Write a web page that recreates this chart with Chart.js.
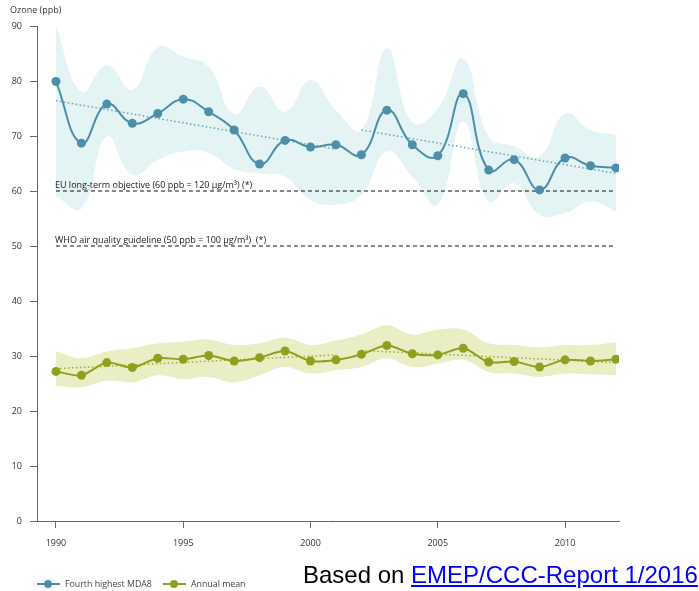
<!DOCTYPE html>
<html>
<head>
<meta charset="utf-8">
<script src="https://cdn.jsdelivr.net/npm/chart.js@4/dist/chart.umd.min.js"></script>
<style>
  html, body { margin: 0; padding: 0; background: #fff; }
  #wrap { position: relative; width: 699px; height: 591px; overflow: hidden; }
  #chart { position: absolute; left: 0; top: 0; }
  .legend { position: absolute; top: 578px; font: 8.8px "Open Sans", sans-serif; color: #444; height: 12px; line-height: 12px; }
  .legend .sw { position: absolute; top: 5px; width: 23px; height: 2px; }
  .legend .dot { position: absolute; top: 2px; left: 7px; width: 8px; height: 8px; border-radius: 50%; }
  .legend .tx { position: absolute; left: 28px; top: 0; white-space: nowrap; }
  #source { position: absolute; left: 303px; top: 561px; font: 24px "Liberation Sans", Arial, sans-serif; color: #000; white-space: nowrap; }
  #source a { color: #0000ff; text-decoration: underline; }
</style>
</head>
<body>
<div id="wrap">
  <canvas id="chart" width="699" height="591"></canvas>
  <div class="legend" style="left:37px"><span class="sw" style="background:#4b8fa9"></span><span class="dot" style="background:#4b8fa9"></span><span class="tx">Fourth highest MDA8</span></div>
  <div class="legend" style="left:163px"><span class="sw" style="background:#8fa01e"></span><span class="dot" style="background:#8fa01e"></span><span class="tx">Annual mean</span></div>
  <div id="source">Based on <a href="#">EMEP/CCC-Report 1/2016</a></div>
</div>
<script>
// Years of the record
const years = [1990, 1991, 1992, 1993, 1994, 1995, 1996, 1997, 1998, 1999, 2000, 2001,
               2002, 2003, 2004, 2005, 2006, 2007, 2008, 2009, 2010, 2011, 2012];

// Fourth highest MDA8 (ppb) with its spread
const mda8      = [79.9, 68.7, 75.8, 72.3, 74.1, 76.7, 74.4, 71.1, 64.9, 69.2, 68.0, 68.4,
                   66.6, 74.7, 68.4, 66.4, 77.7, 63.8, 65.7, 60.2, 66.0, 64.6, 64.2];
const mda8Upper = [90.0, 78.1, 82.9, 78.4, 86.1, 84.4, 82.6, 74.0, 79.0, 74.4, 80.2, 74.7,
                   71.1, 85.9, 72.5, 75.0, 84.1, 69.9, 68.1, 66.3, 74.1, 71.1, 70.2];
const mda8Lower = [59.0, 56.8, 69.9, 62.9, 65.7, 67.2, 66.9, 64.0, 63.2, 62.6, 58.4, 57.5,
                   59.3, 67.2, 62.6, 57.5, 72.6, 58.1, 61.4, 55.7, 56.0, 58.1, 56.3];

// Annual mean (ppb) with its spread
const annual      = [27.2, 26.5, 28.8, 27.9, 29.6, 29.4, 30.1, 29.1, 29.7, 30.9, 29.1, 29.3,
                     30.3, 31.9, 30.4, 30.2, 31.4, 28.9, 29.0, 28.0, 29.3, 29.1, 29.4];
const annualUpper = [30.8, 29.6, 30.8, 31.4, 32.3, 32.6, 33.0, 32.0, 32.3, 33.3, 32.0, 32.8,
                     33.9, 35.6, 33.9, 34.8, 34.8, 32.3, 32.0, 31.6, 32.0, 32.0, 32.5];
const annualLower = [24.6, 24.3, 25.5, 25.2, 26.5, 25.8, 26.2, 25.2, 26.5, 28.0, 26.8, 27.4,
                     28.0, 29.6, 28.0, 28.6, 29.3, 27.1, 26.8, 26.2, 26.8, 26.7, 26.5];

// Piecewise linear trends (start/end year and value)
const trendYears1   = [1990, 2001];
const trendYears2   = [2002, 2012];
const mda8Trend1    = [76.4, 67.6];
const mda8Trend2    = [71.1, 63.2];
const annualTrend1  = [27.7, 30.2];
const annualTrend2  = [31.0, 28.8];

// Reference levels
const refYears   = [1990, 2011.9];
const euLevel    = 60;
const whoLevel   = 50;
const euLabel    = 'EU long-term objective (60 ppb = 120 \u00b5g/m\u00b3) (*)';
const whoLabel   = 'WHO air quality guideline (50 ppb = 100 \u00b5g/m\u00b3)  (*)';
const yTitle     = 'Ozone (ppb)';

// Axis ticks
const xTicks = [1990, 1995, 2000, 2005, 2010];
const yTicks = [0, 10, 20, 30, 40, 50, 60, 70, 80, 90];

const pts = (xs, ys) => xs.map((x, i) => ({ x: x, y: ys[i] }));

const BLUE = '#4b8fa9', BLUE_BAND = '#e4f3f3', BLUE_TREND = '#6aa3b9';
const OLIVE = '#8fa01e', OLIVE_BAND = '#e9eec4', OLIVE_TREND = '#9cae2c';

const labelsPlugin = {
  id: 'labelsPlugin',
  afterDatasetsDraw(chart) {
    const { ctx, scales: { x, y } } = chart;
    ctx.save();
    ctx.fillStyle = '#222';
    ctx.textAlign = 'left';
    ctx.textBaseline = 'alphabetic';
    ctx.font = '9px "Open Sans", sans-serif';
    const x0 = x.getPixelForValue(refYears[0]) - 1;
    ctx.fillText(euLabel, x0, y.getPixelForValue(euLevel) - 3);
    ctx.fillText(whoLabel, x0, y.getPixelForValue(whoLevel) - 3);
    ctx.fillStyle = '#333';
    ctx.textBaseline = 'middle';
    ctx.fillText(yTitle, 10, 10);
    ctx.restore();
  }
};

new Chart(document.getElementById('chart'), {
  type: 'line',
  data: {
    datasets: [
      { data: pts(years, mda8), borderColor: BLUE, backgroundColor: BLUE, borderWidth: 2,
        pointRadius: 4.5, pointBorderWidth: 0, tension: 0.45, fill: false, order: 0 },
      { data: pts(years, annual), borderColor: OLIVE, backgroundColor: OLIVE, borderWidth: 2,
        pointRadius: 4.5, pointBorderWidth: 0, tension: 0.3, fill: false, order: 0 },
      { data: pts(trendYears1, mda8Trend1), borderColor: BLUE_TREND, borderWidth: 1.5, borderDash: [1.5, 2.5],
        pointRadius: 0, fill: false, order: 1 },
      { data: pts(trendYears2, mda8Trend2), borderColor: BLUE_TREND, borderWidth: 1.5, borderDash: [1.5, 2.5],
        pointRadius: 0, fill: false, order: 1 },
      { data: pts(trendYears1, annualTrend1), borderColor: OLIVE_TREND, borderWidth: 1.5, borderDash: [1.5, 2.5],
        pointRadius: 0, fill: false, order: 1 },
      { data: pts(trendYears2, annualTrend2), borderColor: OLIVE_TREND, borderWidth: 1.5, borderDash: [1.5, 2.5],
        pointRadius: 0, fill: false, order: 1 },
      { data: pts(refYears, [euLevel, euLevel]), borderColor: '#111', borderWidth: 1, borderDash: [4, 3],
        pointRadius: 0, fill: false, order: 2 },
      { data: pts(refYears, [whoLevel, whoLevel]), borderColor: '#111', borderWidth: 1, borderDash: [4, 3],
        pointRadius: 0, fill: false, order: 2 },
      // spread bands: upper edge, then lower edge filled up to it
      { data: pts(years, mda8Upper), borderWidth: 0, borderColor: 'rgba(0,0,0,0)', pointRadius: 0,
        tension: 0.45, fill: false, order: 3 },
      { data: pts(years, mda8Lower), borderWidth: 0, borderColor: 'rgba(0,0,0,0)', pointRadius: 0,
        tension: 0.45, fill: '-1', backgroundColor: BLUE_BAND, order: 4 },
      { data: pts(years, annualUpper), borderWidth: 0, borderColor: 'rgba(0,0,0,0)', pointRadius: 0,
        tension: 0.4, fill: false, order: 3 },
      { data: pts(years, annualLower), borderWidth: 0, borderColor: 'rgba(0,0,0,0)', pointRadius: 0,
        tension: 0.4, fill: '-1', backgroundColor: OLIVE_BAND, order: 4 }
    ]
  },
  options: {
    responsive: false,
    animation: false,
    devicePixelRatio: 1,
    layout: { padding: { top: 26, right: 80, left: 0, bottom: 0 } },
    plugins: { legend: { display: false }, tooltip: { enabled: false } },
    scales: {
      x: {
        type: 'linear',
        min: 1989.255,
        max: 2012.12,
        afterBuildTicks: (s) => { s.ticks = xTicks.map(v => ({ value: v })); },
        afterFit: (s) => { s.height = 70; },
        grid: { drawOnChartArea: false, drawTicks: true, tickLength: 7, color: '#666' },
        border: { display: true, color: '#666', width: 1 },
        ticks: { padding: 10, color: '#333', font: { family: 'Open Sans', size: 9 }, maxRotation: 0,
                 callback: (v) => String(v) }
      },
      y: {
        type: 'linear',
        min: 0,
        max: 90,
        afterBuildTicks: (s) => { s.ticks = yTicks.map(v => ({ value: v })); },
        afterFit: (s) => { s.width = 37; },
        grid: { drawOnChartArea: false, drawTicks: true, tickLength: 7, color: '#666' },
        border: { display: true, color: '#666', width: 1 },
        ticks: { padding: 8, color: '#333', font: { family: 'Open Sans', size: 9 } }
      }
    }
  },
  plugins: [labelsPlugin]
});
</script>
</body>
</html>
